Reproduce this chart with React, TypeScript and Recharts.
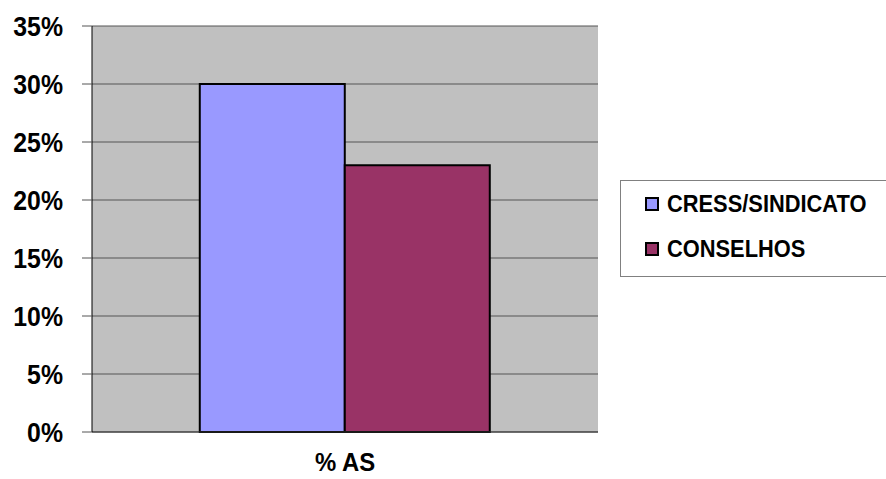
import React from 'react';
import { BarChart, Bar, XAxis, YAxis, CartesianGrid } from 'recharts';

const categories = ['% AS'];
const seriesNames = ['CRESS/SINDICATO', 'CONSELHOS'];
const cressValues = [0.3];
const conselhosValues = [0.23];
const yTicks = [0, 0.05, 0.1, 0.15, 0.2, 0.25, 0.3, 0.35];

const COLORS = ['#9999FF', '#993366'];
const FONT = '"Liberation Sans", Arial, sans-serif';
const SQUEEZE = 0.92;

const data = categories.map((name, i) => ({
  name,
  cress: cressValues[i],
  conselhos: conselhosValues[i],
}));

// narrow bold text, Arial Narrow is not around so squeeze Liberation Sans
function YTick({ x, y, payload }: any) {
  return (
    <g transform={`translate(${x},${y}) scale(${SQUEEZE},1)`}>
      <text textAnchor="end" dy="0.36em" fill="#000" fontFamily={FONT} fontWeight="bold" fontSize={27}>
        {`${Math.round(payload.value * 100)}%`}
      </text>
    </g>
  );
}

function XTick({ x, y, payload }: any) {
  return (
    <g transform={`translate(${x},${y}) scale(${SQUEEZE},1)`}>
      <text textAnchor="middle" y={33} fill="#000" fontFamily={FONT} fontWeight="bold" fontSize={26}>
        {payload.value}
      </text>
    </g>
  );
}

function LegendBox() {
  return (
    <div
      style={{
        position: 'absolute',
        left: 620,
        top: 180,
        width: 300,
        height: 97,
        borderTop: '1px solid #808080',
        borderLeft: '1px solid #808080',
        borderBottom: '1px solid #808080',
        background: '#fff',
        boxSizing: 'border-box',
        paddingLeft: 24,
        paddingTop: 0,
        fontFamily: FONT,
        fontWeight: 'bold',
        fontSize: 24,
        color: '#000',
      }}
    >
      {seriesNames.map((s, i) => (
        <div key={s} style={{ display: 'flex', alignItems: 'center', height: 45 }}>
          <span
            style={{
              display: 'inline-block',
              width: 14,
              height: 14,
              boxSizing: 'border-box',
              background: COLORS[i],
              border: '2px solid #000',
              marginRight: 8,
              flexShrink: 0,
            }}
          />
          <span style={{ display: 'inline-block', transform: `scaleX(${SQUEEZE - 0.01})`, transformOrigin: 'left center', whiteSpace: 'nowrap' }}>
            {s}
          </span>
        </div>
      ))}
    </div>
  );
}

export default function App() {
  return (
    <div style={{ position: 'relative', width: 886, height: 479, background: '#fff', overflow: 'hidden' }}>
      <style>{'body{margin:0}'}</style>
      <BarChart
        width={886}
        height={479}
        data={data}
        margin={{ top: 26, right: 288, bottom: 0, left: 0 }}
        barCategoryGap="21.3%"
        barGap={0}
      >
        <CartesianGrid vertical={false} fill="#C0C0C0" stroke="#555" strokeOpacity={1} />
        <XAxis
          dataKey="name"
          height={47}
          axisLine={{ stroke: '#333' }}
          tickLine={false}
          tick={<XTick />}
          tickMargin={0}
        />
        <YAxis
          width={92}
          domain={[0, 0.35]}
          ticks={yTicks}
          interval={0}
          axisLine={{ stroke: '#000' }}
          tickLine={{ stroke: '#555' }}
          tickSize={10}
          tickMargin={19}
          tick={<YTick />}
        />
        <YAxis
          yAxisId="right"
          orientation="right"
          width={0}
          domain={[0, 0.35]}
          tick={false}
          tickLine={false}
          axisLine={{ stroke: '#909090' }}
        />
        <Bar dataKey="cress" name={seriesNames[0]} fill={COLORS[0]} stroke="#000" strokeWidth={2} isAnimationActive={false} />
        <Bar dataKey="conselhos" name={seriesNames[1]} fill={COLORS[1]} stroke="#000" strokeWidth={2} isAnimationActive={false} />
      </BarChart>
      <LegendBox />
    </div>
  );
}
